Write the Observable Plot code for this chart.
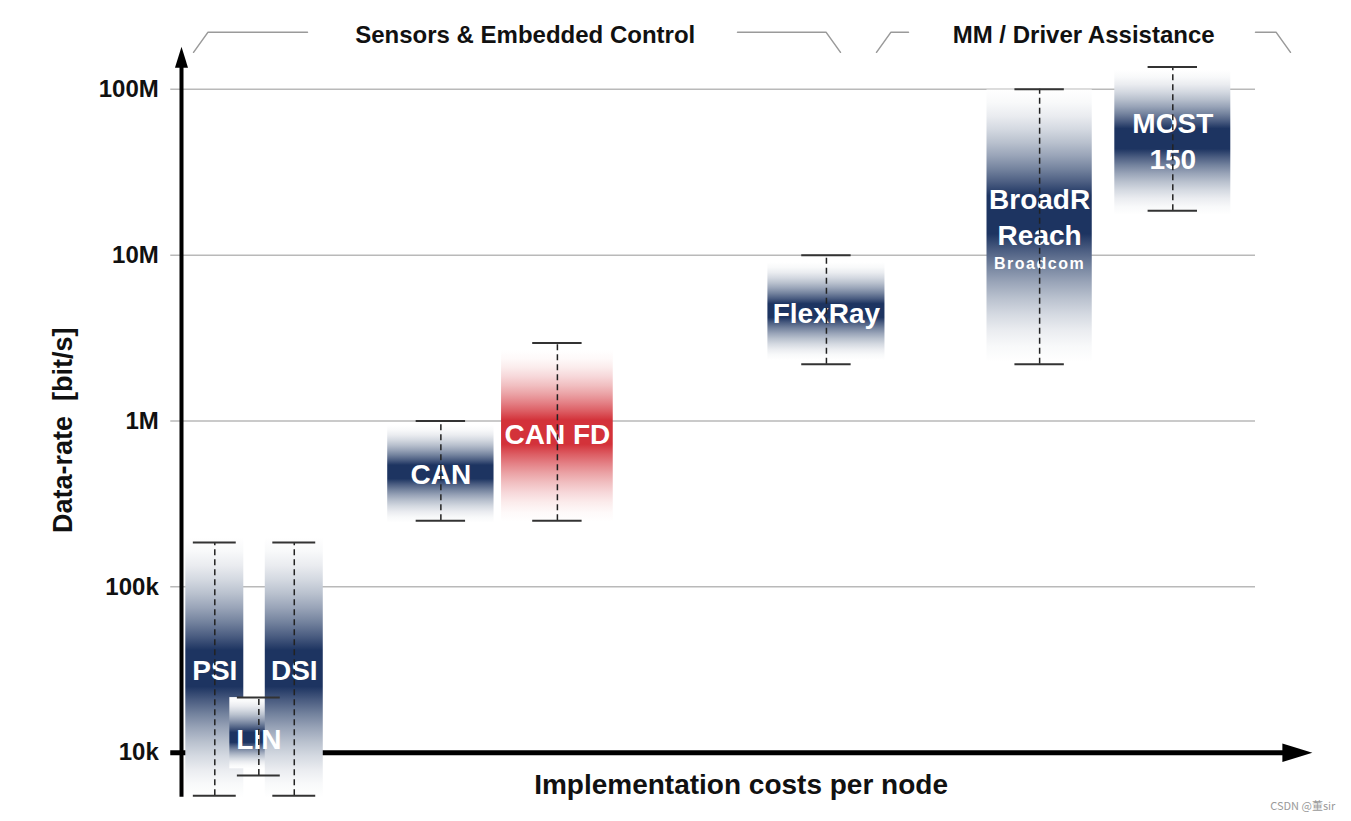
<!DOCTYPE html>
<html>
<head>
<meta charset="utf-8">
<script src="https://cdn.jsdelivr.net/npm/d3@7"></script>
<script src="https://cdn.jsdelivr.net/npm/@observablehq/plot@0.6"></script>
<style>
  body { margin: 0; background: #fff; }
  #chart svg { display: block; }
</style>
</head>
<body>
<div id="chart"></div>
<script>
// ---- Data ----
const techs      = ["PSI", "LIN", "DSI", "CAN", "CAN FD", "FlexRay", "BroadR\nReach", "MOST\n150"];
// implementation cost range (arbitrary units, 0 = origin, 100 = end of grid)
const costLow    = [0.4, 4.5, 7.8, 19.2, 29.8, 54.6, 75.0, 86.9];
const costHigh   = [5.8, 9.9, 13.2, 29.1, 40.2, 65.5, 84.8, 97.7];
// whisker range of data rate (bit/s)
const rateMin    = [5.5e3, 7.3e3, 5.5e3, 2.5e5, 2.5e5, 2.2e6, 2.2e6, 1.85e7];
const rateMax    = [1.85e5, 2.15e4, 1.85e5, 1.0e6, 2.95e6, 1.0e7, 1.0e8, 1.36e8];
// shaded band range (bit/s)
const bandMin    = [5.36e3, 8.0e3, 5.36e3, 2.42e5, 2.45e5, 2.32e6, 2.25e6, 1.74e7];
const bandMax    = [1.98e5, 2.15e4, 1.98e5, 9.4e5, 2.66e6, 9.0e6, 9.9e7, 1.30e8];
// data rate at which each label (and darkest shade) sits
const labelRate  = [3.2e4, 1.23e4, 3.2e4, 4.9e5, 8.5e5, 4.6e6, 1.74e7, 5.0e7];
const subLabels  = ["", "", "", "", "", "", "Broadcom", ""];
const subRate    = [null, null, null, null, null, null, 8.9e6, null];
const highlighted = ["CAN FD"];

const tickValues = [1e4, 1e5, 1e6, 1e7, 1e8];
const tickLabels = ["10k", "100k", "1M", "10M", "100M"];

const groups     = ["Sensors & Embedded Control", "MM / Driver Assistance"];
const groupMid   = [32.0, 84.0];
const groupStart = [1.12, 64.71];
const groupTextL = [11.73, 67.69];
const groupTextR = [51.77, 100.0];
const groupEnd   = [61.36, 103.26];

const yTitle = "Data-rate\u00a0 [bit/s]";
const xTitle = "Implementation costs per node";
const credit = "CSDN @董sir";

// ---- Build table ----
const rows = techs.map((name, i) => ({
  i, name,
  x1: costLow[i], x2: costHigh[i], xc: (costLow[i] + costHigh[i]) / 2,
  lo: rateMin[i], hi: rateMax[i],
  b1: bandMin[i], b2: bandMax[i],
  label: labelRate[i],
  sub: subLabels[i], subY: subRate[i],
  cap: Math.min(2.3, (costHigh[i] - costLow[i]) * 0.37)
}));

const navy = "#1d3461";
const red = "#d3323a";

// bracket polylines
const bracketTop = 2.21e8, bracketBot = 1.67e8, slant = 1.35;
const bracketPts = [];
groups.forEach((g, k) => {
  [[groupStart[k], bracketBot], [groupStart[k] + slant, bracketTop], [groupTextL[k], bracketTop]]
    .forEach(([x, y]) => bracketPts.push({seg: k + "L", x, y}));
  [[groupTextR[k], bracketTop], [groupEnd[k] - slant, bracketTop], [groupEnd[k], bracketBot]]
    .forEach(([x, y]) => bracketPts.push({seg: k + "R", x, y}));
});

// custom filled arrowhead symbol
const arrowHead = {
  draw(context, size) {
    const r = Math.sqrt(size / Math.PI);
    context.moveTo(0, -r);
    context.lineTo(0.62 * r, r);
    context.lineTo(-0.62 * r, r);
    context.closePath();
  }
};

const font = "'Liberation Sans', Arial, Helvetica, sans-serif";

const chart = Plot.plot({
  width: 1351,
  height: 821,
  marginLeft: 181,
  marginRight: 96,
  marginTop: 39,
  marginBottom: 19,
  style: {fontFamily: font, background: "#fff", color: "#000"},
  x: {domain: [0, 100], axis: null},
  y: {type: "log", domain: [10 ** 3.7, 10 ** 8.3], axis: null},
  marks: [
    // grid lines
    Plot.ruleY(tickValues, {x1: -1, x2: 100, stroke: "#b9b9b9", strokeWidth: 1.5}),
    // tick labels
    Plot.text(tickValues, {x: -1, y: d => d, text: (d, i) => tickLabels[i], textAnchor: "end", dx: -12,
      fontSize: 24, fontWeight: "bold", fill: "#111"}),
    // horizontal axis arrow
    Plot.ruleY([1e4], {x1: -1, x2: 103, stroke: "#000", strokeWidth: 5}),
    Plot.dot([1e4], {x: 103.9, y: d => d, symbol: arrowHead, r: 15, rotate: 90, fill: "#000", stroke: "none"}),
    // shaded bands
    ...rows.map(r => Plot.rect([r], {x1: "x1", x2: "x2", y1: "b1", y2: "b2", fill: `url(#grad${r.i})`})),
    // labels
    Plot.text(rows, {x: "xc", y: "label", text: "name", fill: "#fff", fontSize: 28, fontWeight: "bold", lineHeight: 1.28}),
    Plot.text(rows.filter(r => r.sub), {x: "xc", y: "subY", text: "sub", fill: "#fff", fontSize: 16, fontWeight: "bold"}),
    // dashed whiskers
    Plot.ruleX(rows, {x: "xc", y1: "lo", y2: "hi", stroke: "#222", strokeWidth: 1.5, strokeDasharray: "6,4"}),
    // caps
    Plot.ruleY(rows, {y: "hi", x1: d => d.xc - d.cap, x2: d => d.xc + d.cap, stroke: "#333", strokeWidth: 2}),
    Plot.ruleY(rows, {y: "lo", x1: d => d.xc - d.cap, x2: d => d.xc + d.cap, stroke: "#333", strokeWidth: 2}),
    // vertical axis arrow
    Plot.ruleX([0], {y1: 5.4e3, y2: 1.56e8, stroke: "#000", strokeWidth: 4}),
    Plot.dot([0], {x: d => d, y: 1.56e8, symbol: arrowHead, r: 10.5, fill: "#000", stroke: "none"}),
    // group brackets
    Plot.line(bracketPts, {x: "x", y: "y", z: "seg", stroke: "#9a9a9a", strokeWidth: 1.5}),
    Plot.text(groups, {x: (d, i) => groupMid[i], y: 2.12e8, text: d => d, fontSize: 24, fontWeight: "bold", fill: "#111"}),
    // axis titles
    Plot.text([yTitle], {x: -11, y: 8.8e5, text: d => d, rotate: -90, fontSize: 27, fontWeight: "bold", fill: "#111"}),
    Plot.text([xTitle], {x: 52.1, y: 6.4e3, text: d => d, fontSize: 28, fontWeight: "bold", fill: "#111"}),
    Plot.text([credit], {x: 104.4, y: 4.72e3, text: d => d, fontSize: 11, fill: "#9a9a9a",
      fontFamily: "'Noto Sans CJK SC', 'Liberation Sans', sans-serif"})
  ]
});

// gradients for the bands (white at both ends, darkest at the label)
const svg = d3.select(chart);
const defs = svg.insert("defs", ":first-child");
const steps = 8, ease = t => Math.pow(t, 1.7), plateau = 0.07;
rows.forEach(r => {
  const peak = (Math.log10(r.b2) - Math.log10(r.label)) / (Math.log10(r.b2) - Math.log10(r.b1));
  const c = highlighted.includes(r.name) ? red : navy;
  const mix = d3.interpolateRgb("#ffffff", c);
  const g = defs.append("linearGradient").attr("id", `grad${r.i}`)
    .attr("x1", 0).attr("y1", 0).attr("x2", 0).attr("y2", 1);
  const top = Math.max(0.05, peak - plateau), bot = Math.min(0.95, peak + plateau);
  const stops = [];
  for (let k = 0; k <= steps; k++) stops.push([top * k / steps, mix(ease(k / steps))]);
  for (let k = steps; k >= 0; k--) stops.push([bot + (1 - bot) * (1 - k / steps), mix(ease(k / steps))]);
  stops.forEach(([o, col]) => g.append("stop").attr("offset", o).attr("stop-color", col));
});
svg.selectAll("text").filter(function () { return this.textContent === "Broadcom"; })
  .attr("letter-spacing", "1.5");

document.getElementById("chart").appendChild(chart);
</script>
</body>
</html>
